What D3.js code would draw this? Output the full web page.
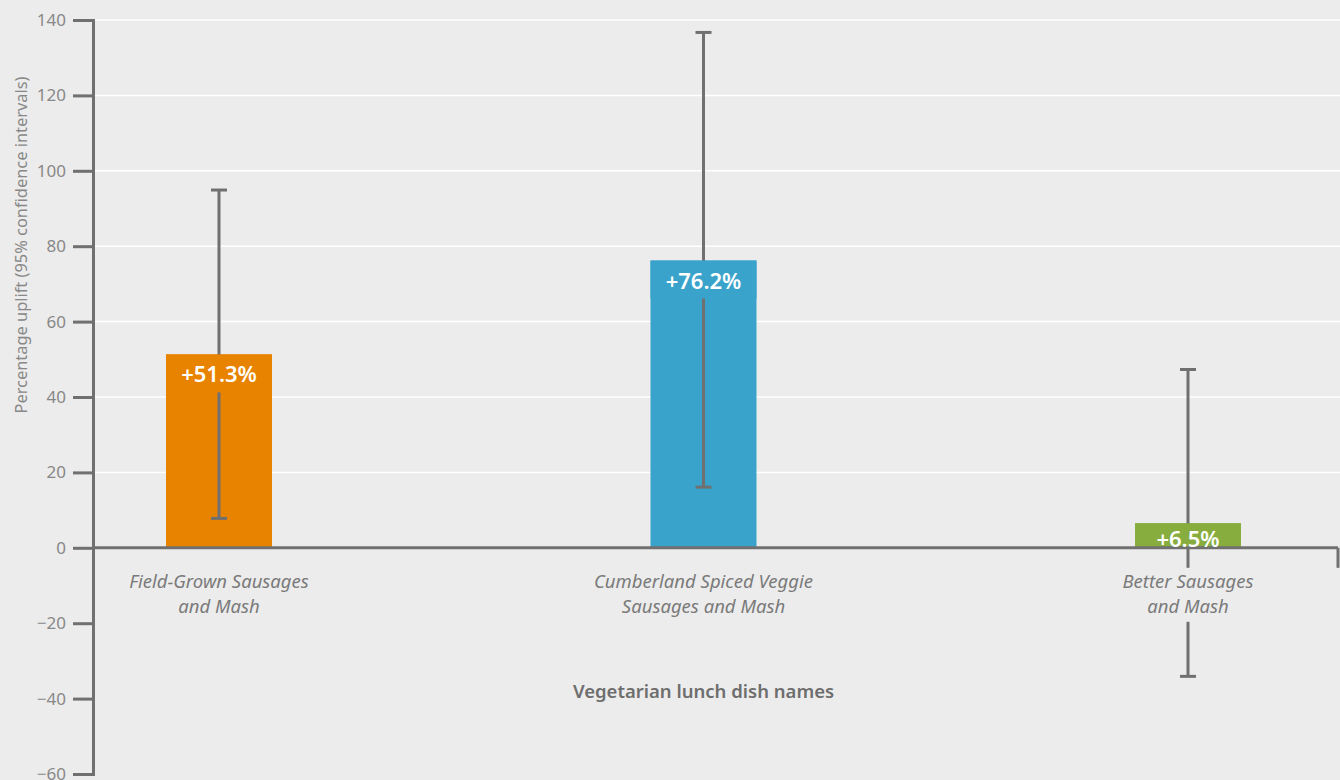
<!DOCTYPE html>
<html>
<head>
<meta charset="utf-8">
<script src="https://cdn.jsdelivr.net/npm/d3@7.9.0/dist/d3.min.js"></script>
<style>
  body { margin: 0; background: #ececec; }
  svg { display: block; font-family: "Noto Sans", sans-serif; }
</style>
</head>
<body>
<div id="vis"></div>
<script>
// Data
const dishes = ["Field-Grown Sausages and Mash", "Cumberland Spiced Veggie Sausages and Mash", "Better Sausages and Mash"];
const dishLines = [["Field-Grown Sausages", "and Mash"], ["Cumberland Spiced Veggie", "Sausages and Mash"], ["Better Sausages", "and Mash"]];
const uplift = [51.3, 76.2, 6.5];
const ciLow = [7.8, 16.1, -34.1];
const ciHigh = [94.9, 136.7, 47.3];
const barColors = ["#e88300", "#39a3cb", "#86ad3e"];
const yTicks = [-60, -40, -20, 0, 20, 40, 60, 80, 100, 120, 140];

const width = 1340;
const height = 780;
const margin = { top: 20, right: 2, bottom: 6, left: 93 };
const axisColor = "#707070";
const bg = "#ececec";

const yScale = d3
  .scaleLinear()
  .domain([-60, 140])
  .range([height - margin.bottom, margin.top]);

const xScale = d3
  .scalePoint()
  .domain(dishes)
  .range([margin.left + 126, width - 152]);

const barWidth = 106;

const svg = d3
  .select("#vis")
  .append("svg")
  .attr("width", width)
  .attr("height", height);

svg.append("rect").attr("width", width).attr("height", height).attr("fill", bg);

// Gridlines (positive side only)
svg
  .append("g")
  .selectAll("line")
  .data(yTicks.filter((d) => d > 0))
  .enter()
  .append("line")
  .attr("x1", margin.left)
  .attr("x2", width)
  .attr("y1", (d) => yScale(d))
  .attr("y2", (d) => yScale(d))
  .attr("stroke", "#ffffff")
  .attr("stroke-width", 1.5);

// Bars
svg
  .append("g")
  .selectAll("rect")
  .data(dishes)
  .enter()
  .append("rect")
  .attr("x", (d) => xScale(d) - barWidth / 2)
  .attr("y", (d, i) => yScale(uplift[i]))
  .attr("width", barWidth)
  .attr("height", (d, i) => yScale(0) - yScale(uplift[i]))
  .attr("fill", (d, i) => barColors[i]);

// Error bars
const err = svg.append("g").attr("stroke", axisColor).attr("stroke-width", 3);
dishes.forEach((d, i) => {
  const cx = xScale(d);
  err.append("line")
    .attr("x1", cx).attr("x2", cx)
    .attr("y1", yScale(ciHigh[i])).attr("y2", yScale(ciLow[i]));
  [ciHigh[i], ciLow[i]].forEach((v) => {
    err.append("line")
      .attr("x1", cx - 8).attr("x2", cx + 8)
      .attr("y1", yScale(v)).attr("y2", yScale(v));
  });
});

// Bar-coloured backing behind the value labels
const backs = svg.append("g");
dishes.forEach((d, i) => {
  const top = yScale(uplift[i]);
  const bandBottom = Math.min(top + 38, yScale(0));
  backs.append("rect")
    .attr("x", xScale(d) - barWidth / 2)
    .attr("y", top)
    .attr("width", barWidth)
    .attr("height", bandBottom - top)
    .attr("fill", barColors[i]);
});

// X axis line
svg.append("line")
  .attr("x1", margin.left).attr("x2", width - margin.right)
  .attr("y1", yScale(0)).attr("y2", yScale(0))
  .attr("stroke", axisColor).attr("stroke-width", 3);
svg.append("line")
  .attr("x1", width - margin.right).attr("x2", width - margin.right)
  .attr("y1", yScale(0)).attr("y2", yScale(0) + 20)
  .attr("stroke", axisColor).attr("stroke-width", 3);

// Value labels
svg.append("g")
  .selectAll("text")
  .data(dishes)
  .enter()
  .append("text")
  .attr("x", (d) => xScale(d))
  .attr("y", (d, i) => Math.min(yScale(uplift[i]) + 28, yScale(0) - 1))
  .attr("text-anchor", "middle")
  .attr("fill", "#ffffff")
  .attr("font-weight", 600)
  .attr("font-size", 22)
  .text((d, i) => `+${uplift[i].toFixed(1)}%`);

// Category labels with background
const cats = svg.append("g");
dishes.forEach((d, i) => {
  const g = cats.append("g");
  const r = g.append("rect").attr("fill", bg);
  const t = g.append("text")
    .attr("text-anchor", "middle")
    .attr("font-style", "italic")
    .attr("font-size", 18.5)
    .attr("fill", "#7a7a7a");
  dishLines[i].forEach((line, j) => {
    t.append("tspan")
      .attr("x", xScale(d))
      .attr("y", yScale(0) + 40 + j * 25)
      .text(line);
  });
  const bb = t.node().getBBox();
  r.attr("x", bb.x - 4).attr("y", yScale(0) + 20)
    .attr("width", bb.width + 8).attr("height", bb.y + bb.height + 4 - (yScale(0) + 20));
});

// Y axis
const yAxis = svg
  .append("g")
  .attr("transform", `translate(${margin.left},0)`)
  .call(
    d3.axisLeft(yScale)
      .tickValues(yTicks)
      .tickSize(20)
      .tickPadding(7)
      .tickFormat((d) => (d < 0 ? "\u2212" + Math.abs(d) : d))
  );
yAxis.select(".domain").attr("stroke", axisColor).attr("stroke-width", 3);
yAxis.selectAll(".tick line").attr("stroke", axisColor).attr("stroke-width", 3);
yAxis.selectAll(".tick text")
  .attr("fill", "#888888")
  .attr("font-size", 17)
  .attr("font-family", "Noto Sans, sans-serif");

// Axis titles
svg.append("text")
  .attr("x", xScale(dishes[1]))
  .attr("y", 698)
  .attr("text-anchor", "middle")
  .attr("font-weight", 600)
  .attr("font-size", 18.5)
  .attr("fill", "#6e6e6e")
  .text("Vegetarian lunch dish names");

svg.append("text")
  .attr("transform", "rotate(-90)")
  .attr("x", -245)
  .attr("y", 27)
  .attr("text-anchor", "middle")
  .attr("font-size", 16.4)
  .attr("fill", "#888888")
  .text("Percentage uplift (95% confidence intervals)");
</script>
</body>
</html>
